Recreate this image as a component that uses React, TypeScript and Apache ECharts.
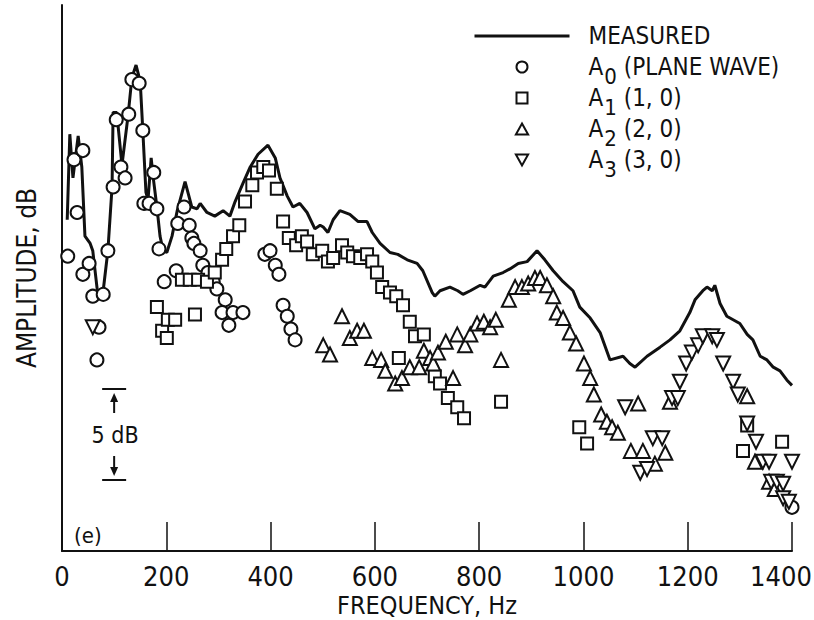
import React, { useEffect, useRef } from "react";
import * as echarts from "echarts";

const FONT = '"Liberation Sans Narrow", "DejaVu Sans Condensed", "Liberation Sans", sans-serif';
const INK = "#111";

// x axis
const xMin = 0;
const xMax = 1400;
const xStep = 200;
// y axis (relative dB)
const yMin = 0;
const yMax = 30;

const seriesNames = ["MEASURED", "A0 (PLANE WAVE)", "A1 (1, 0)", "A2 (2, 0)", "A3 (3, 0)"];

// [Hz, dB]
const measured: [number, number][] = [
  [10, 18.2], [15, 22.9], [21, 20.5], [31, 22.8], [38, 21.1], [44, 17.3], [54, 16.9], [59, 16.5],
  [69, 14.0], [79, 14.3], [88, 16.5], [96, 20.0], [98, 24.1], [105, 24.1], [115, 21.2], [127, 24.0],
  [134, 26.0], [142, 26.7], [150, 25.8], [155, 23.1], [161, 19.7], [165, 19.3], [171, 21.6], [175, 20.5],
  [182, 18.9], [188, 17.3], [194, 16.5], [201, 16.4], [211, 17.3], [221, 18.7], [236, 20.3], [249, 18.9],
  [259, 18.8], [265, 19.1], [278, 18.6], [293, 18.4], [309, 18.7], [322, 18.4], [332, 19.2], [347, 20.2],
  [361, 21.1], [376, 21.8], [395, 22.3], [409, 21.6], [418, 20.5], [432, 19.5], [443, 18.9], [456, 19.1],
  [470, 18.6], [485, 17.7], [495, 17.9], [501, 17.8], [510, 17.5], [520, 18.2], [533, 18.7], [552, 18.5],
  [568, 18.1], [585, 18.1], [595, 17.5], [610, 16.9], [629, 16.4], [644, 16.3], [662, 16.0], [681, 15.8],
  [692, 15.4], [710, 14.2], [715, 14.0], [725, 14.3], [744, 14.5], [759, 14.3], [769, 14.1], [783, 14.3],
  [802, 14.6], [811, 14.5], [827, 15.1], [846, 15.3], [859, 15.5], [875, 15.8], [892, 15.9], [911, 16.5],
  [926, 16.0], [942, 15.4], [961, 14.8], [980, 14.3], [993, 13.4], [1013, 12.8], [1032, 12.0], [1051, 10.5],
  [1076, 10.7], [1089, 10.3], [1099, 10.1], [1122, 10.7], [1147, 11.2], [1166, 11.6], [1185, 12.1], [1204, 13.1],
  [1214, 13.8], [1229, 14.3], [1237, 14.5], [1247, 14.3], [1252, 14.6], [1262, 13.6], [1275, 12.9], [1300, 12.5],
  [1314, 11.9], [1325, 11.6], [1339, 10.7], [1352, 10.5], [1364, 10.1], [1377, 9.9], [1390, 9.4], [1400, 9.1],
];

const a0: [number, number][] = [
  [11, 16.2], [23, 21.5], [29, 18.6], [40, 22.0], [40, 15.2], [52, 15.8], [59, 14.0], [67, 10.5],
  [71, 12.3], [79, 14.1], [88, 16.5], [98, 20.0], [104, 23.7], [113, 21.1], [121, 20.5], [128, 24.0],
  [134, 25.9], [148, 25.7], [155, 23.1], [157, 19.1], [167, 19.1], [176, 20.8], [182, 18.8], [186, 16.6],
  [196, 14.8], [219, 15.4], [222, 18.0], [234, 18.9], [244, 17.9], [249, 17.2], [253, 16.9], [265, 16.5],
  [270, 15.7], [280, 15.3], [290, 14.8], [297, 14.4], [313, 13.8], [307, 13.1], [320, 12.4], [328, 13.1],
  [347, 13.1], [389, 16.3], [399, 16.5], [409, 15.7], [416, 15.2], [424, 13.5], [432, 12.9], [439, 12.2],
  [447, 11.6], [1400, 2.4],
];

const a1: [number, number][] = [
  [182, 13.4], [192, 12.1], [201, 11.7], [203, 12.7], [217, 12.7], [230, 14.9], [245, 14.9], [255, 13.0],
  [261, 14.9], [278, 14.8], [293, 15.3], [307, 16.0], [315, 16.6], [328, 17.3], [340, 17.9], [351, 19.2],
  [365, 20.1], [374, 20.8], [386, 21.1], [397, 20.9], [412, 19.9], [424, 18.1], [435, 17.2], [449, 16.8],
  [460, 17.3], [470, 17.0], [481, 16.3], [499, 16.5], [510, 15.9], [520, 16.1], [537, 16.8], [547, 16.4],
  [558, 16.2], [572, 16.1], [585, 16.3], [595, 15.9], [604, 15.3], [614, 14.5], [629, 14.2], [641, 14.0],
  [654, 13.5], [667, 12.6], [677, 11.8], [694, 11.9], [646, 10.6], [715, 9.6], [725, 9.2], [740, 8.4],
  [758, 7.9], [771, 7.3], [842, 8.2], [992, 6.8], [1007, 5.9], [1306, 5.5], [1314, 6.9], [1381, 6.0],
];

const a2: [number, number][] = [
  [501, 11.3], [514, 10.8], [537, 12.9], [552, 11.7], [566, 12.1], [579, 12.1], [595, 10.6], [612, 10.5],
  [620, 9.9], [639, 9.2], [652, 9.5], [667, 10.1], [685, 10.1], [694, 11.0], [706, 10.6], [712, 10.3],
  [721, 10.9], [736, 11.5], [750, 9.5], [758, 11.9], [773, 11.3], [783, 11.9], [796, 12.5], [809, 12.6],
  [821, 12.3], [832, 12.7], [842, 10.5], [857, 13.8], [869, 14.5], [882, 14.5], [894, 14.7], [907, 15.0],
  [917, 15.0], [930, 14.6], [942, 14.0], [949, 13.1], [961, 12.8], [974, 12.0], [986, 11.4], [1001, 10.3],
  [1013, 9.5], [1020, 8.6], [1034, 7.5], [1045, 7.1], [1055, 6.8], [1066, 6.5], [1091, 5.5], [1105, 8.1],
  [1114, 5.5], [1137, 4.8], [1157, 5.4], [1166, 8.2], [1314, 8.5], [1329, 4.9], [1356, 3.8], [1367, 3.4],
];

const a3: [number, number][] = [
  [59, 12.3], [1080, 7.9], [1109, 4.3], [1122, 4.5], [1133, 6.2], [1151, 6.2], [1170, 8.4], [1181, 8.4],
  [1185, 9.3], [1197, 10.3], [1208, 10.9], [1220, 11.3], [1229, 11.8], [1247, 11.8], [1256, 11.6], [1268, 10.3],
  [1287, 9.3], [1296, 8.6], [1314, 7.0], [1331, 6.0], [1344, 4.9], [1356, 4.9], [1400, 4.9], [1360, 3.8],
  [1371, 3.8], [1383, 3.7], [1383, 2.9], [1394, 2.7],
];

// 5 dB scale bar
const scaleBarFreq = 100;
const scaleBarTopDb = 8.9;
const scaleBarSpanDb = 5;
const scaleBarLabel = "5 dB";
const panelLabel = "(e)";

const markerStyle = { color: "#fff", borderColor: INK, borderWidth: 2, opacity: 1 };

const ICON_SQUARE = "path://M0,0L10,0L10,10L0,10Z";
const ICON_UP = "path://M5,0L10,9L0,9Z";
const ICON_DOWN = "path://M0,0L10,0L5,9Z";

function legendFormatter(name: string): string {
  const m = name.match(/^A(\d)\s(.*)$/);
  if (m) return `{g| }{t|A}{s|${m[1]}}{t| ${m[2]}}`;
  return `{g| }{t|${name}}{p| }`;
}

export default function App() {
  const ref = useRef<HTMLDivElement>(null);
  useEffect(() => {
    if (!ref.current) return;
    const chart = echarts.init(ref.current, null, { renderer: "svg" });
    chart.setOption({
      animation: false,
      backgroundColor: "#fff",
      textStyle: { fontFamily: FONT, color: INK },
      grid: { left: 62, right: 22, top: 5, bottom: 69, outerBoundsMode: "none", containLabel: false },
      legend: {
        orient: "vertical",
        left: 468,
        top: 19,
        itemWidth: 95,
        itemHeight: 11,
        itemGap: -1,
        data: [
          { name: seriesNames[0], itemStyle: { opacity: 0 }, lineStyle: { width: 3, color: INK } },
          { name: seriesNames[1], icon: "circle" },
          { name: seriesNames[2], icon: ICON_SQUARE },
          { name: seriesNames[3], icon: ICON_UP },
          { name: seriesNames[4], icon: ICON_DOWN },
        ],
        formatter: legendFormatter,
        textStyle: {
          fontFamily: FONT,
          color: INK,
          rich: {
            g: { width: 14 },
            t: { fontFamily: FONT, fontSize: 24, color: INK },
            s: { fontFamily: FONT, fontSize: 22, padding: [18, 0, 0, 1], color: INK },
            p: { fontFamily: FONT, fontSize: 22, padding: [18, 0, 0, 0], color: INK },
          },
        },
      },
      xAxis: {
        type: "value",
        min: xMin,
        max: xMax,
        interval: xStep,
        name: "FREQUENCY, Hz",
        nameLocation: "middle",
        nameGap: 41,
        nameMoveOverlap: false,
        nameTextStyle: { fontFamily: FONT, fontSize: 25, color: INK, lineHeight: 26 },
        axisLine: { lineStyle: { color: INK, width: 2 } },
        axisTick: { inside: true, length: 29, lineStyle: { color: INK, width: 1.5 } },
        axisLabel: {
          fontFamily: FONT,
          fontSize: 27,
          color: INK,
          margin: 12,
          formatter: (v: number) => (v === xMax ? `{e|${v}}` : String(v)),
          rich: { e: { fontFamily: FONT, fontSize: 27, color: INK, padding: [0, 22, 0, 0] } },
        },
        splitLine: { show: false },
      },
      yAxis: {
        type: "value",
        min: yMin,
        max: yMax,
        name: "AMPLITUDE, dB",
        nameLocation: "middle",
        nameGap: 22,
        nameTextStyle: { fontFamily: FONT, fontSize: 26, color: INK },
        axisLine: { show: true, lineStyle: { color: INK, width: 2 } },
        axisTick: { show: false },
        axisLabel: { show: false },
        splitLine: { show: false },
      },
      series: [
        {
          name: seriesNames[0],
          type: "line",
          data: measured,
          symbol: "none",
          lineStyle: { color: INK, width: 3 },
          itemStyle: { color: INK },
          z: 3,
        },
        {
          name: seriesNames[1],
          type: "scatter",
          data: a0,
          symbol: "circle",
          symbolSize: 13,
          itemStyle: markerStyle,
          z: 4,
        },
        {
          name: seriesNames[2],
          type: "scatter",
          data: a1,
          symbol: "rect",
          symbolSize: 12,
          itemStyle: markerStyle,
          z: 4,
        },
        {
          name: seriesNames[3],
          type: "scatter",
          data: a2,
          symbol: "triangle",
          symbolSize: 14,
          itemStyle: markerStyle,
          z: 4,
        },
        {
          name: seriesNames[4],
          type: "scatter",
          data: a3,
          symbol: "triangle",
          symbolRotate: 180,
          symbolSize: 14,
          itemStyle: markerStyle,
          z: 4,
        },
      ],
    });

    const [sx, yTop] = chart.convertToPixel({ gridIndex: 0 }, [scaleBarFreq, scaleBarTopDb]) as number[];
    const [, yBot] = chart.convertToPixel({ gridIndex: 0 }, [scaleBarFreq, scaleBarTopDb - scaleBarSpanDb]) as number[];
    const [ex, ey] = chart.convertToPixel({ gridIndex: 0 }, [xMin, yMin]) as number[];
    const mid = (yTop + yBot) / 2;
    const ls = { stroke: INK, lineWidth: 2 };
    chart.setOption({
      graphic: [
        { type: "line", shape: { x1: sx - 12, y1: yTop, x2: sx + 12, y2: yTop }, style: ls },
        { type: "line", shape: { x1: sx - 12, y1: yBot, x2: sx + 12, y2: yBot }, style: ls },
        { type: "line", shape: { x1: sx, y1: yTop + 8, x2: sx, y2: yTop + 24 }, style: ls },
        { type: "polygon", shape: { points: [[sx, yTop + 4], [sx - 4, yTop + 13], [sx + 4, yTop + 13]] }, style: { fill: INK } },
        { type: "line", shape: { x1: sx, y1: yBot - 24, x2: sx, y2: yBot - 8 }, style: ls },
        { type: "polygon", shape: { points: [[sx, yBot - 4], [sx - 4, yBot - 13], [sx + 4, yBot - 13]] }, style: { fill: INK } },
        {
          type: "text",
          x: sx + 1,
          y: mid,
          style: { text: scaleBarLabel, fontFamily: FONT, fontSize: 23, fill: INK, align: "center", verticalAlign: "middle" },
        },
        {
          type: "text",
          x: ex + 12,
          y: ey - 16,
          style: { text: panelLabel, fontFamily: FONT, fontSize: 22, fill: INK, align: "left", verticalAlign: "middle" },
        },
      ],
    });
    return () => chart.dispose();
  }, []);
  return (
    <div
      ref={ref}
      style={{ position: "fixed", left: 0, top: 0, width: 814, height: 620, background: "#fff" }}
    />
  );
}
